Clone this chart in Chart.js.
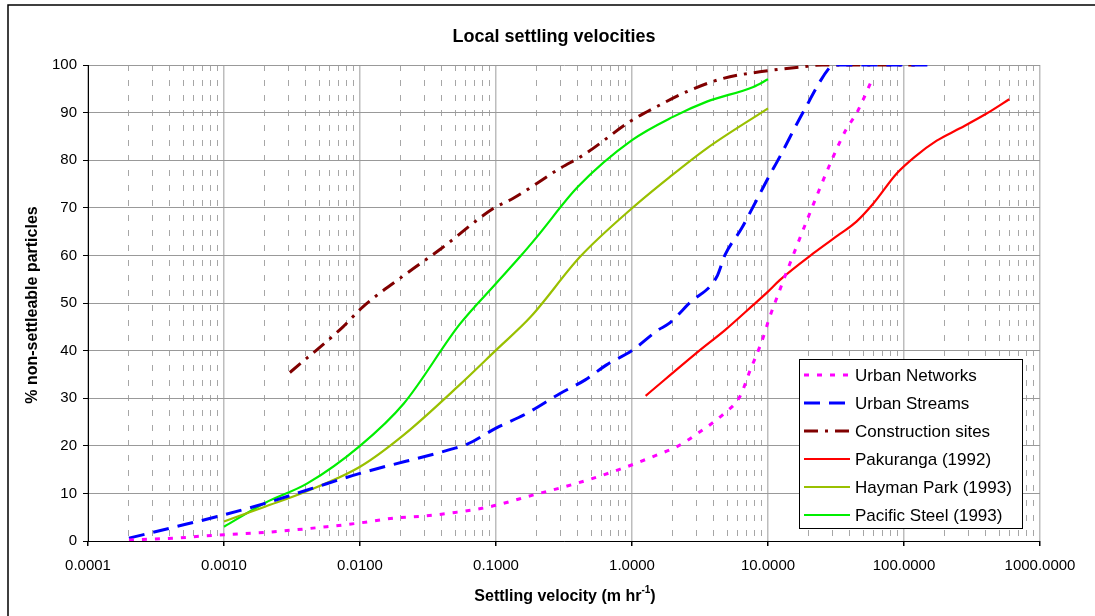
<!DOCTYPE html>
<html>
<head>
<meta charset="utf-8">
<script src="https://cdn.jsdelivr.net/npm/chart.js@4.4.0/dist/chart.umd.min.js"></script>
<style>
  html, body { margin: 0; padding: 0; background: #fff; }
</style>
</head>
<body>
<canvas id="chart" width="1095" height="616"></canvas>
<script>
// values, [settling velocity, % non-settleable]
const urbanNetworks = [[0.0002,0.2],[0.0003,0.4],[0.00044,0.6],[0.00067,1.0],[0.001,1.3],[0.002,1.8],[0.0032,2.3],[0.0057,3.0],[0.01,3.8],[0.0176,4.8],[0.031,5.3],[0.05,6.0],[0.09,7.2],[0.19,9.7],[0.39,12.1],[0.82,15.1],[1.6,18.3],[2.1,19.7],[3.0,22.5],[4.8,26.9],[6.2,30.3],[7.4,35.9],[8.7,40.8],[9.6,44.3],[10,46],[12.2,52.7],[14.5,58.3],[19.8,68.1],[29.4,80],[37.9,86.7],[44.7,89.8],[59,97.3]];
const urbanStreams = [[0.0002,0.6],[0.0004,2.7],[0.001,5.5],[0.002,7.9],[0.0045,11.1],[0.01,14.2],[0.05,19.5],[0.061,20.3],[0.1,23.7],[0.168,26.8],[0.296,31.0],[0.45,33.8],[0.65,37],[1.0,40],[1.55,44.3],[1.85,45.6],[2.67,50.1],[4.2,55.5],[4.83,60.1],[6.4,65.7],[8.0,70.9],[10,76.2],[12.2,80.7],[18.2,90.2],[28.6,99.6],[30,100],[150,100]];
const constructionSites = [[0.00305,35.4],[0.0075,45.0],[0.0105,49.2],[0.022,56.2],[0.0398,61.5],[0.096,69.9],[0.134,72.0],[0.296,78.3],[0.44,81.1],[1.0,88.4],[1.44,90.9],[2.67,94.7],[4.7,97.2],[10,98.8],[17.7,99.6],[25,100],[120,100]];
const pakuranga = [[1.26,30.5],[3.16,40.1],[4.83,44.3],[7.8,49.6],[10,52.4],[12.2,54.8],[21.5,60.4],[33.8,64.5],[44.7,67.1],[59.5,70.9],[88.4,77.2],[120,80.7],[174,84.1],[258,86.7],[405,89.8],[594,92.8]];
const haymanPark = [[0.001,4.1],[0.002,7.2],[0.0041,10.5],[0.01,15.6],[0.021,22.3],[0.054,32.8],[0.1,40.1],[0.18,47.1],[0.415,59.7],[1.0,69.9],[1.9,76.5],[3.55,82.5],[10,90.9]];
const pacificSteel = [[0.001,3.0],[0.002,8.0],[0.0041,12.1],[0.01,20.0],[0.021,28.9],[0.054,45.5],[0.1,54.1],[0.15,59.7],[0.2,63.9],[0.40,74.4],[1.0,84.2],[2.0,89.1],[3.55,92.3],[7.8,95.4],[10,97.0]];

const seriesNames = ['Urban Networks', 'Urban Streams', 'Construction sites', 'Pakuranga (1992)', 'Hayman Park (1993)', 'Pacific Steel (1993)'];
const xTickLabels = ['0.0001', '0.0010', '0.0100', '0.1000', '1.0000', '10.0000', '100.0000', '1000.0000'];
const yTicks = [0, 10, 20, 30, 40, 50, 60, 70, 80, 90, 100];

const FONT = '"Liberation Sans", Arial, Helvetica, sans-serif';

function toPoints(arr) {
  return arr.map(p => ({ x: p[0], y: p[1] }));
}

function makeSet(label, data, color, width, dash) {
  return {
    label: label,
    data: toPoints(data),
    borderColor: color,
    backgroundColor: color,
    borderWidth: width,
    borderDash: dash,
    showLine: true,
    pointRadius: 0,
    fill: false,
    cubicInterpolationMode: 'monotone'
  };
}

const datasets = [
  makeSet(seriesNames[0], urbanNetworks, '#FF00FF', 3, [5, 8]),
  makeSet(seriesNames[1], urbanStreams, '#0000FF', 3, [16, 9]),
  makeSet(seriesNames[2], constructionSites, '#800000', 3, [14, 7, 3, 7]),
  makeSet(seriesNames[3], pakuranga, '#FF0000', 2.2, []),
  makeSet(seriesNames[4], haymanPark, '#99C000', 2.2, []),
  makeSet(seriesNames[5], pacificSteel, '#00EE00', 2.2, [])
];

// titles, frame and the boxed legend
const decor = {
  id: 'decor',
  afterDraw(chart) {
    const ctx = chart.ctx;
    ctx.save();
    ctx.strokeStyle = '#000';
    ctx.lineWidth = 1.5;
    ctx.beginPath();
    ctx.moveTo(8, 616);
    ctx.lineTo(8, 5);
    ctx.lineTo(1095, 5);
    ctx.stroke();

    ctx.fillStyle = '#000';
    ctx.textBaseline = 'middle';
    ctx.textAlign = 'center';
    ctx.font = 'bold 18px ' + FONT;
    ctx.fillText('Local settling velocities', 554, 37);

    // x title with superscript
    ctx.font = 'bold 16px ' + FONT;
    const main = 'Settling velocity (m hr';
    const sup = '-1';
    const w1 = ctx.measureText(main).width;
    const w3 = ctx.measureText(')').width;
    ctx.font = 'bold 10px ' + FONT;
    const w2 = ctx.measureText(sup).width;
    let x0 = 565 - (w1 + w2 + w3) / 2;
    ctx.textAlign = 'left';
    ctx.font = 'bold 16px ' + FONT;
    ctx.fillText(main, x0, 597);
    ctx.font = 'bold 10px ' + FONT;
    ctx.fillText(sup, x0 + w1, 590);
    ctx.font = 'bold 16px ' + FONT;
    ctx.fillText(')', x0 + w1 + w2, 597);

    // y title
    ctx.save();
    ctx.translate(33, 305);
    ctx.rotate(-Math.PI / 2);
    ctx.textAlign = 'center';
    ctx.fillText('% non-settleable particles', 0, 0);
    ctx.restore();

    // legend
    ctx.fillStyle = '#fff';
    ctx.fillRect(799, 359, 223, 169);
    ctx.strokeStyle = '#000';
    ctx.lineWidth = 1;
    ctx.strokeRect(799.5, 359.5, 223, 169);
    ctx.font = '17px ' + FONT;
    ctx.textAlign = 'left';
    chart.data.datasets.forEach((ds, i) => {
      const y = 375 + i * 28;
      ctx.strokeStyle = ds.borderColor;
      ctx.lineWidth = ds.borderWidth;
      ctx.setLineDash(ds.borderDash);
      ctx.beginPath();
      ctx.moveTo(804, y);
      ctx.lineTo(850, y);
      ctx.stroke();
      ctx.setLineDash([]);
      ctx.fillStyle = '#000';
      ctx.fillText(ds.label, 855, y + 1);
    });
    ctx.restore();
  }
};

const isMajor = c => c.index % 9 === 0;

new Chart(document.getElementById('chart').getContext('2d'), {
  type: 'scatter',
  data: { datasets: datasets },
  options: {
    responsive: false,
    animation: false,
    devicePixelRatio: 1,
    layout: { padding: { top: 65, right: 55, bottom: 0, left: 0 } },
    plugins: { legend: { display: false }, tooltip: { enabled: false } },
    scales: {
      x: {
        type: 'logarithmic',
        min: 0.0001,
        max: 1000,
        afterBuildTicks(scale) {
          const t = [];
          for (let e = -4; e < 3; e++) {
            for (let k = 1; k < 10; k++) t.push({ value: k * Math.pow(10, e) });
          }
          t.push({ value: 1000 });
          scale.ticks = t;
        },
        afterFit(scale) { scale.height = 75; },
        ticks: {
          autoSkip: false,
          maxRotation: 0,
          padding: 11,
          color: '#000',
          font: { size: 15, family: FONT },
          callback: (v, i) => (i % 9 === 0 ? xTickLabels[i / 9] : '')
        },
        grid: {
          color: c => (c.tick && isMajor(c) ? '#bdbdbd' : '#a6a6a6'),
          lineWidth: c => (c.tick && isMajor(c) ? 1.5 : 1),
          tickLength: 5,
          tickColor: c => (c.tick && isMajor(c) ? '#000' : 'rgba(0,0,0,0)')
        },
        border: {
          color: '#000',
          width: 1,
          dash: c => (c.tick && !isMajor(c) ? [6, 9] : [])
        }
      },
      y: {
        min: 0,
        max: 100,
        afterBuildTicks(scale) { scale.ticks = yTicks.map(v => ({ value: v })); },
        afterFit(scale) { scale.width = 88; },
        ticks: {
          padding: 6,
          color: '#000',
          font: { size: 15, family: FONT }
        },
        grid: {
          color: '#999999',
          lineWidth: 1,
          tickLength: 5,
          tickColor: '#000'
        },
        border: { color: '#000', width: 1 }
      }
    }
  },
  plugins: [decor]
});
</script>
</body>
</html>
